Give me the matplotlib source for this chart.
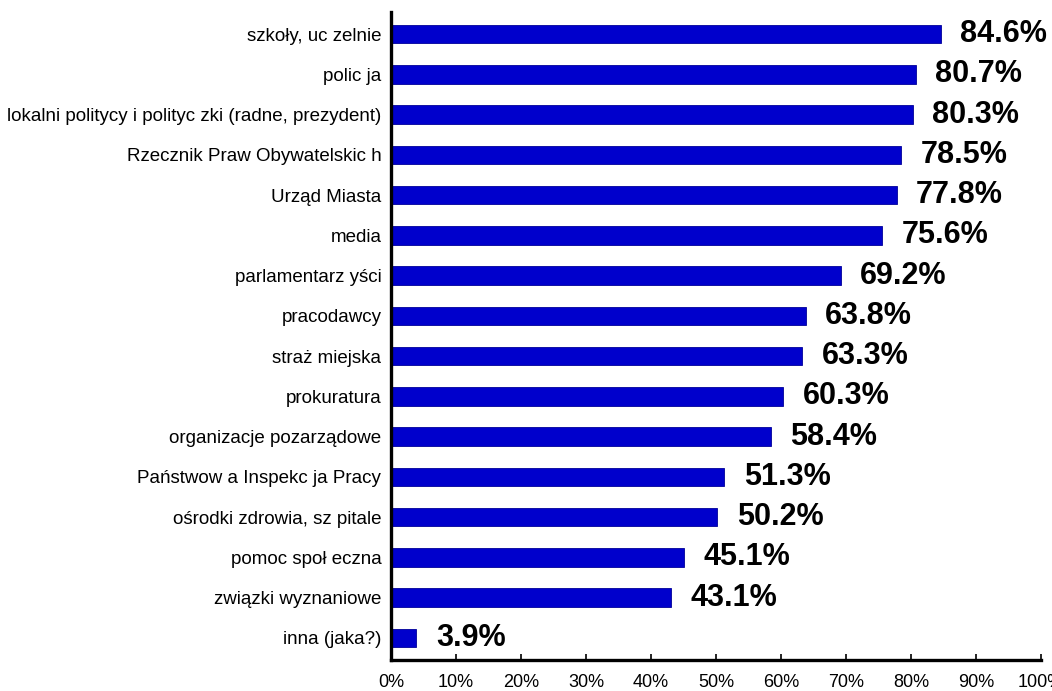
import matplotlib.pyplot as plt
import numpy as np

# categories top to bottom, as in the picture
categories = ['szkoły, uc zelnie', 'polic ja',
              'lokalni politycy i polityc zki (radne, prezydent)',
              'Rzecznik Praw Obywatelskic h', 'Urząd Miasta', 'media',
              'parlamentarz yści', 'pracodawcy', 'straż miejska', 'prokuratura',
              'organizacje pozarządowe', 'Państwow a Inspekc ja Pracy',
              'ośrodki zdrowia, sz pitale', 'pomoc społ eczna',
              'związki wyznaniowe', 'inna (jaka?)']
values = [84.6, 80.7, 80.3, 78.5, 77.8, 75.6, 69.2, 63.8, 63.3, 60.3,
          58.4, 51.3, 50.2, 45.1, 43.1, 3.9]
xticks = [0, 10, 20, 30, 40, 50, 60, 70, 80, 90, 100]

plt.rcParams['font.family'] = ['Liberation Sans', 'DejaVu Sans']

fig = plt.figure(figsize=(10.52, 6.91), dpi=100)
ax = fig.add_axes([0.3717, 0.045, 0.6178, 0.9375])

y = np.arange(len(categories))
ax.barh(y, values, height=0.46, color='#0000cc', edgecolor='#000099', linewidth=0.6)

for yi, v in zip(y, values):
    ax.annotate('%.1f%%' % v, (v, yi), xytext=(14, 0), textcoords='offset points',
                va='center', ha='left', fontsize=22, fontweight='bold')

ax.set_ylim(len(categories) - 0.45, -0.55)
ax.set_xlim(0, 100)
ax.set_yticks(y)
ax.set_yticklabels(categories, fontsize=13.5)
ax.set_xticks(xticks)
ax.set_xticklabels(['%d%%' % t for t in xticks], fontsize=13)

for s in ['top', 'right']:
    ax.spines[s].set_visible(False)
for s in ['left', 'bottom']:
    ax.spines[s].set_linewidth(2.4)
ax.tick_params(axis='y', length=0, pad=7)
ax.tick_params(axis='x', direction='in', length=4, width=1.2, pad=10)

fig.savefig('out.png', dpi=100)
